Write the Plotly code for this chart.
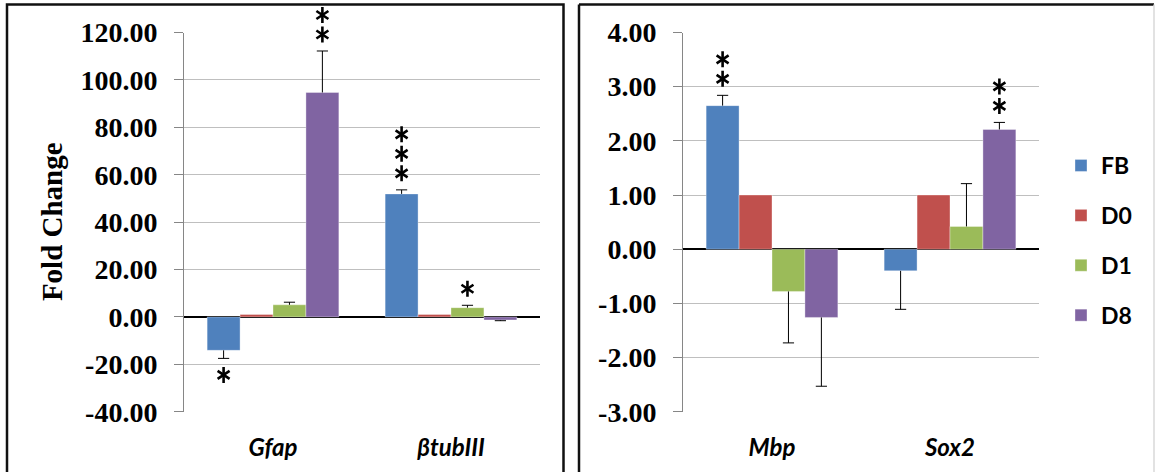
import plotly.graph_objects as go

# ---------------- data ----------------
series = ["FB", "D0", "D1", "D8"]
colors = ["#4F81BD", "#C0504D", "#9BBB59", "#8064A2"]

genes_left = ["Gfap", "βtubIII"]
genes_right = ["Mbp", "Sox2"]

vals_left = {
    "FB": [-14.1, 51.9],
    "D0": [1.0, 1.0],
    "D1": [5.1, 3.9],
    "D8": [94.7, -1.3],
}
err_left = {
    "FB": [3.4, 1.7],
    "D0": [0.0, 0.0],
    "D1": [1.1, 1.0],
    "D8": [17.5, 0.3],
}
sig_left = {
    "FB": ["*", "***"],
    "D0": ["", ""],
    "D1": ["", "*"],
    "D8": ["**", ""],
}

vals_right = {
    "FB": [2.65, -0.40],
    "D0": [1.0, 1.0],
    "D1": [-0.78, 0.42],
    "D8": [-1.26, 2.21],
}
err_right = {
    "FB": [0.19, 0.71],
    "D0": [0.0, 0.0],
    "D1": [0.95, 0.79],
    "D8": [1.27, 0.13],
}
sig_right = {
    "FB": ["**", ""],
    "D0": ["", ""],
    "D1": ["", ""],
    "D8": ["", "**"],
}

left_ticks = [-40, -20, 0, 20, 40, 60, 80, 100, 120]
right_ticks = [-3, -2, -1, 0, 1, 2, 3, 4]

# ---------------- layout geometry ----------------
W, H = 1155, 472
BARGAP = 0.26
dom_left = [184 / W, 540 / W]
dom_right = [683 / W, 1039 / W]
dom_y = [1 - 411.7 / H, 1 - 32.5 / H]
dom_star = [dom_y[0], 1.0]          # taller invisible axis so stars may rise above the plot
range_left = [-40, 120]
range_right = [-3, 4]
PLOT_H = (dom_y[1] - dom_y[0]) * H
STAR_FIRST = 16.5   # px from error-bar tip to first star centre
STAR_STEP = 19.5    # px between stacked stars


def star_range(rng):
    ppu = PLOT_H / (rng[1] - rng[0])
    return [rng[0], rng[0] + (dom_star[1] - dom_star[0]) * H / ppu]


fig = go.Figure()


def add_panel(xa, ya, ya_star, genes, vals, errs, sigs, rng, show_legend):
    ppu = PLOT_H / (rng[1] - rng[0])  # pixels per data unit
    for i, s in enumerate(series):
        v = vals[s]
        e = errs[s]
        up = [ee if vv >= 0 else 0 for vv, ee in zip(v, e)]
        dn = [ee if vv < 0 else 0 for vv, ee in zip(v, e)]
        fig.add_trace(go.Bar(
            x=genes, y=v, name="<b>%s</b>" % s, legendgroup=s, showlegend=show_legend,
            xaxis=xa, yaxis=ya, offsetgroup=s,
            marker=dict(color=colors[i], line=dict(color="rgba(255,255,255,0.35)", width=1)),
            error_y=dict(type="data", symmetric=False, array=up, arrayminus=dn,
                         color="#000000", thickness=1, width=0),
            hoverinfo="skip",
        ))
    for i, s in enumerate(series):
        v = vals[s]
        e = errs[s]
        # caps at the tips of the error bars
        tips = [(vv + ee if vv >= 0 else vv - ee) if ee > 0 else None for vv, ee in zip(v, e)]
        fig.add_trace(go.Scatter(
            x=genes, y=tips, mode="markers", xaxis=xa, yaxis=ya,
            offsetgroup=s, showlegend=False, hoverinfo="skip", cliponaxis=False,
            marker=dict(symbol="line-ew", size=8, line=dict(color="#000000", width=1)),
        ))
    for i, s in enumerate(series):
        v = vals[s]
        e = errs[s]
        # significance stars (six-armed, drawn as two overlaid Y symbols)
        sx, sy = [], []
        for j, g in enumerate(genes):
            n = len(sigs[s][j])
            if n == 0:
                continue
            vv, ee = v[j], e[j]
            tip = vv + ee if vv >= 0 else vv - ee
            sign = 1 if vv >= 0 else -1
            for k in range(n):
                sx.append(g)
                sy.append(tip + sign * (STAR_FIRST + STAR_STEP * k) / ppu)
        for sym in ("y-up-open", "y-down-open"):
            fig.add_trace(go.Scatter(
                x=sx if sx else [genes[0]], y=sy if sy else [None], mode="markers",
                xaxis=xa, yaxis=ya_star, offsetgroup=s, showlegend=False, hoverinfo="skip",
                marker=dict(symbol=sym, size=10, color="#000000",
                            line=dict(color="#000000", width=2.6)),
            ))


add_panel("x", "y", "y3", genes_left, vals_left, err_left, sig_left, range_left, True)
add_panel("x2", "y2", "y4", genes_right, vals_right, err_right, sig_right, range_right, False)

annotations = [dict(
    x=52 / W, y=(dom_y[0] + dom_y[1]) / 2, xref="paper", yref="paper",
    text="Fold Change", textangle=-90, showarrow=False,
    xanchor="center", yanchor="middle",
    font=dict(family="Liberation Serif", size=29, weight="bold", color="#000000"),
)]


def zero_pos(rng):
    return dom_y[0] + (0 - rng[0]) / (rng[1] - rng[0]) * (dom_y[1] - dom_y[0])


tickfont = dict(family="Liberation Serif", size=28, weight="bold", color="#000000")
catfont = dict(family="Lato", size=24, weight="bold", style="italic", color="#000000")
grid = "#BFBFBF"
axisline = "#868686"

common_y = dict(
    showline=True, linecolor=axisline, linewidth=1,
    ticks="outside", ticklen=9, tickcolor=axisline,
    showgrid=True, gridcolor=grid, gridwidth=1,
    zeroline=True, zerolinecolor="#000000", zerolinewidth=2,
    tickfont=tickfont, ticklabelstandoff=11, automargin=False,
)
star_y = dict(
    domain=dom_star, showline=False, ticks="", showticklabels=False,
    showgrid=False, zeroline=False, automargin=False, fixedrange=True,
)
common_x = dict(
    type="category", showline=False, ticks="", showgrid=False, zeroline=False,
    tickfont=catfont, ticklabelstandoff=19, automargin=False,
)
tick_x = dict(
    type="linear", range=[-0.5, 1.5], tickvals=[-0.5, 0.5, 1.5],
    ticks="outside", ticklen=8, tickwidth=2, tickcolor="#000000",
    showticklabels=False, showgrid=False, zeroline=False, showline=False,
    anchor="free", automargin=False,
)


def fmt(v):
    return "%.2f" % v


fig.update_layout(
    width=W, height=H,
    margin=dict(l=0, r=0, t=0, b=0, autoexpand=False),
    paper_bgcolor="#FFFFFF", plot_bgcolor="rgba(0,0,0,0)",
    barmode="group", bargap=BARGAP, bargroupgap=0,
    scattermode="group", scattergap=BARGAP,
    xaxis=dict(domain=dom_left, anchor="y", **common_x),
    xaxis2=dict(domain=dom_right, anchor="y2", **common_x),
    xaxis3=dict(overlaying="x", domain=dom_left, position=zero_pos(range_left), **tick_x),
    xaxis4=dict(overlaying="x2", domain=dom_right, position=zero_pos(range_right), **tick_x),
    yaxis=dict(domain=dom_y, anchor="x", range=range_left, tickvals=left_ticks,
               ticktext=[fmt(v) for v in left_ticks], **common_y),
    yaxis2=dict(domain=dom_y, anchor="x2", range=range_right, tickvals=right_ticks,
                ticktext=[fmt(v) for v in right_ticks], **common_y),
    yaxis3=dict(anchor="x", range=star_range(range_left), **star_y),
    yaxis4=dict(anchor="x2", range=star_range(range_right), **star_y),
    legend=dict(
        x=1061 / W, y=1 - 144 / H, xanchor="left", yanchor="top",
        font=dict(family="Lato", size=23, weight="bold", color="#000000"),
        traceorder="grouped", tracegroupgap=17, bgcolor="rgba(0,0,0,0)", itemclick=False,
    ),
    annotations=annotations,
    shapes=[
        # left frame
        dict(type="rect", xref="paper", yref="paper", x0=7 / W, x1=563.5 / W, y0=-0.05, y1=1 - 4.5 / H,
             line=dict(color="#111111", width=2.5), fillcolor="rgba(0,0,0,0)", layer="above"),
        # right frame
        dict(type="line", xref="paper", yref="paper", x0=579 / W, x1=1154 / W, y0=1 - 4.5 / H, y1=1 - 4.5 / H,
             line=dict(color="#111111", width=2.5)),
        dict(type="line", xref="paper", yref="paper", x0=579 / W, x1=579 / W, y0=-0.05, y1=1 - 4.5 / H,
             line=dict(color="#111111", width=2.5)),
        dict(type="line", xref="paper", yref="paper", x0=1154 / W, x1=1154 / W, y0=-0.05, y1=1 - 4.5 / H,
             line=dict(color="#D9D9D9", width=1.5)),
    ],
)

fig.write_html("out.html", config={"displayModeBar": False},
               post_script="document.body.style.margin='0';document.body.style.overflow='hidden';")
